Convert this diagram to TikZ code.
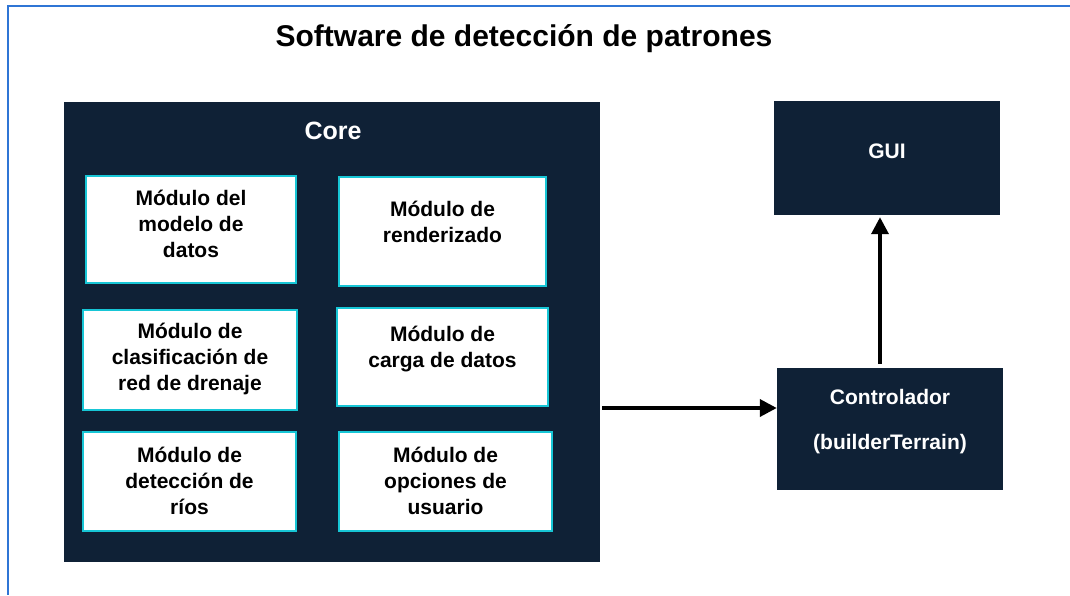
\documentclass[tikz,border=0pt]{standalone}
\usepackage{fontspec}
\setmainfont{Liberation Sans}
\usetikzlibrary{arrows.meta}
\definecolor{navy}{RGB}{15,33,54}
\definecolor{cyanb}{RGB}{23,198,214}
\definecolor{frameblue}{RGB}{47,117,213}
\tikzset{
  darkbox/.style={draw=none, fill=navy, rectangle, inner sep=0pt},
  modbox/.style={draw=cyanb, line width=2.8pt, fill=white, rectangle, inner sep=0pt},
  modtext/.style={align=center, font=\fontsize{21}{26}\selectfont\bfseries, text=black, inner sep=0pt},
  whitetext/.style={align=center, font=\fontsize{21}{26}\selectfont\bfseries, text=white, inner sep=0pt},
  conn/.style={line width=3.6pt, -{Triangle[length=17pt,width=17pt]}}
}
\begin{document}
\begin{tikzpicture}[x=1pt,y=-1pt]
\useasboundingbox (0,0) rectangle (1070,595);
\fill[white] (0,0) rectangle (1070,595);
\coordinate (fA) at (1070,6);
\coordinate (fB) at (8,6);
\coordinate (fC) at (8,595);
\draw[frameblue, line width=1.8pt] (fA) -- (fB) -- (fC);

\node[font=\fontsize{30}{36}\selectfont\bfseries, inner sep=0pt] (title) at (524,39) {Software de detección de patrones};

\node[darkbox, minimum width=536pt, minimum height=460pt] (core) at (332,332) {};
\node[whitetext, font=\fontsize{25}{30}\selectfont\bfseries] (corelbl) at (333,131) {Core};

\node[modbox, minimum width=210pt, minimum height=107pt] (m1) at (191,229.5) {};
\node[modtext] (t1) at (191,224) {Módulo del\\modelo de\\datos};
\node[modbox, minimum width=207pt, minimum height=109pt] (m2) at (442.5,231.5) {};
\node[modtext] (t2) at (442.5,222) {Módulo de\\renderizado};
\node[modbox, minimum width=214pt, minimum height=100pt] (m3) at (190,360) {};
\node[modtext] (t3) at (190,359) {Módulo de\\clasificación de\\red de drenaje};
\node[modbox, minimum width=211pt, minimum height=98pt] (m4) at (442.5,357) {};
\node[modtext] (t4) at (442.5,349) {Módulo de\\carga de datos};
\node[modbox, minimum width=213pt, minimum height=99pt] (m5) at (189.5,481.5) {};
\node[modtext] (t5) at (189.5,481) {Módulo de\\detección de\\ríos};
\node[modbox, minimum width=213pt, minimum height=99pt] (m6) at (445.5,481.5) {};
\node[modtext] (t6) at (445.5,481) {Módulo de\\opciones de\\usuario};

\node[darkbox, minimum width=226pt, minimum height=114pt] (gui) at (887,158) {};
\node[whitetext] (guilbl) at (887,151) {GUI};

\node[darkbox, minimum width=226pt, minimum height=122pt] (ctrl) at (890,429) {};
\node[whitetext] (ctrl1) at (890,397) {Controlador};
\node[whitetext] (ctrl2) at (890,444) {(builderTerrain)};

\coordinate (ay) at (0,408);
\coordinate (ax) at (880,0);
\draw[conn] ([xshift=2pt]core.east |- ay) -- (ctrl.west |- ay);
\draw[conn] ([yshift=4pt]ctrl.north -| ax) -- ([yshift=-2pt]gui.south -| ax);
\end{tikzpicture}
\end{document}
